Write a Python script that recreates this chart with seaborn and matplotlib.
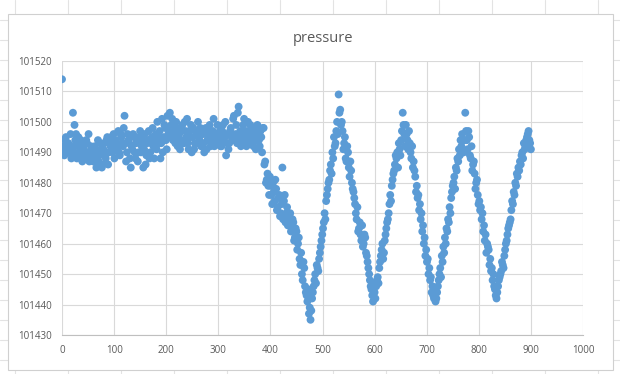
import numpy as np
import pandas as pd
import matplotlib
matplotlib.use("Agg")
import matplotlib.pyplot as plt
from matplotlib.lines import Line2D
from matplotlib.patches import Rectangle
import seaborn as sns

# pressure readings at samples 0, 3, 6, ...
flat = [
    101514, 101492, 101494, 101490, 101493, 101491, 101488, 101503, 101499, 101496,
    101492, 101490, 101494, 101487, 101491, 101489, 101493, 101496, 101488, 101490,
    101487, 101492, 101485, 101494, 101489, 101491, 101486, 101493, 101488, 101495,
    101490, 101492, 101494, 101496, 101491, 101493, 101497, 101489, 101495, 101492,
    101502, 101487, 101496, 101493, 101485, 101491, 101495, 101488, 101494, 101490,
    101497, 101492, 101485, 101496, 101489, 101494, 101488, 101493, 101498, 101488,
    101496, 101500, 101493, 101488, 101501, 101495, 101498, 101491, 101496, 101503,
    101499, 101494, 101497, 101500, 101492, 101496, 101494, 101499, 101493, 101497,
    101501, 101491, 101495, 101490, 101498, 101493, 101496, 101500, 101494, 101492,
    101496, 101490, 101498, 101494, 101497, 101492, 101495, 101501, 101493, 101496,
    101494, 101497, 101492, 101499, 101495, 101489, 101496, 101493, 101498, 101494,
    101502, 101496, 101493, 101505, 101497, 101494, 101499, 101495, 101492, 101500,
    101496, 101493, 101498, 101495, 101491, 101499, 101494, 101497, 101490, 101498,
]
drop1 = [101487, 101481, 101479, 101482, 101476, 101480, 101474, 101478, 101472, 101476,
         101470, 101485, 101474, 101467, 101472, 101468, 101470, 101465, 101467, 101462,
         101464, 101460, 101455, 101457, 101448, 101452, 101444, 101441, 101437]
rise1 = [101435, 101442, 101446, 101450, 101453, 101451, 101457, 101461, 101465, 101470,
         101474, 101478, 101481, 101486, 101490, 101495, 101493, 101500, 101509, 101504]
drop2 = [101500, 101491, 101495, 101487, 101490, 101482, 101484, 101478, 101475, 101470,
         101472, 101465, 101463, 101466, 101460, 101462, 101456, 101452, 101448, 101445,
         101441, 101444]
rise2 = [101446, 101449, 101452, 101456, 101460, 101457, 101463, 101467, 101470, 101476,
         101479, 101483, 101486, 101488, 101485, 101491, 101494, 101503, 101496]
drop3 = [101499, 101494, 101497, 101490, 101492, 101487, 101482, 101479, 101476, 101473,
         101470, 101466, 101462, 101458, 101455, 101452, 101449, 101446, 101442, 101441]
rise3 = [101444, 101448, 101452, 101456, 101459, 101462, 101465, 101468, 101472, 101475,
         101479, 101482, 101485, 101488, 101491, 101494, 101496, 101490, 101503]
drop4 = [101494, 101497, 101489, 101492, 101486, 101483, 101480, 101476, 101474, 101472,
         101470, 101466, 101463, 101460, 101458, 101455, 101452, 101450, 101445, 101442]
rise4 = [101446, 101449, 101451, 101453, 101456, 101460, 101463, 101466, 101468, 101474,
         101477, 101480, 101483, 101485, 101487, 101489, 101488, 101491, 101494, 101496,
         101494, 101491]

# readings in between, at samples 1.5, 4.5, 7.5, ...
flat_b = [
    101491, 101489, 101495, 101493, 101490, 101496, 101492, 101490, 101494, 101488,
    101495, 101493, 101489, 101492, 101488, 101494, 101490, 101487, 101492, 101489,
    101491, 101488, 101490, 101487, 101493, 101485, 101491, 101489, 101494, 101486,
    101493, 101495, 101490, 101488, 101494, 101492, 101490, 101496, 101493, 101498,
    101493, 101490, 101494, 101488, 101492, 101496, 101490, 101493, 101487, 101495,
    101490, 101494, 101491, 101486, 101493, 101497, 101490, 101495, 101492, 101494,
    101491, 101495, 101497, 101493, 101490, 101499, 101494, 101502, 101497, 101495,
    101501, 101496, 101493, 101498, 101495, 101491, 101497, 101493, 101500, 101495,
    101493, 101497, 101499, 101495, 101491, 101497, 101493, 101495, 101498, 101496,
    101493, 101497, 101491, 101495, 101499, 101494, 101497, 101492, 101496, 101499,
    101496, 101492, 101497, 101494, 101500, 101493, 101491, 101497, 101495, 101501,
    101495, 101499, 101503, 101495, 101492, 101497, 101501, 101493, 101497, 101494,
    101499, 101495, 101492, 101497, 101494, 101496, 101492, 101495, 101498, 101486,
]
drop1_b = [101480, 101483, 101476, 101479, 101473, 101477, 101481, 101471, 101475, 101469,
           101473, 101468, 101476, 101470, 101466, 101469, 101464, 101468, 101461, 101465,
           101458, 101462, 101453, 101450, 101454, 101446, 101443, 101445, 101439]
rise1_b = [101438, 101444, 101448, 101447, 101452, 101455, 101459, 101463, 101467, 101468,
           101476, 101480, 101484, 101483, 101488, 101492, 101497, 101496, 101503, 101499]
drop2_b = [101497, 101493, 101488, 101492, 101485, 101487, 101480, 101477, 101473, 101468,
           101464, 101467, 101461, 101459, 101463, 101457, 101454, 101450, 101446, 101443,
           101447, 101442]
rise2_b = [101448, 101447, 101454, 101458, 101455, 101461, 101465, 101468, 101473, 101474,
           101481, 101484, 101489, 101490, 101493, 101489, 101497, 101499, 101492]
drop3_b = [101496, 101491, 101493, 101488, 101485, 101484, 101477, 101475, 101471, 101468,
           101464, 101460, 101456, 101454, 101450, 101448, 101444, 101443, 101445, 101442]
rise3_b = [101446, 101450, 101449, 101454, 101457, 101460, 101464, 101467, 101470, 101477,
           101480, 101478, 101484, 101487, 101489, 101492, 101490, 101494, 101497]
drop4_b = [101491, 101495, 101488, 101484, 101487, 101478, 101481, 101473, 101471, 101468,
           101464, 101461, 101457, 101459, 101453, 101451, 101448, 101446, 101443, 101444]
rise4_b = [101448, 101450, 101454, 101452, 101458, 101461, 101465, 101467, 101471, 101473,
           101476, 101479, 101482, 101484, 101486, 101490, 101493, 101492, 101495, 101497,
           101493]

pressure_a = flat + drop1 + rise1 + drop2 + rise2 + drop3 + rise3 + drop4 + rise4
pressure_b = (flat_b + drop1_b + rise1_b + drop2_b + rise2_b + drop3_b + rise3_b
              + drop4_b + rise4_b)

df = pd.DataFrame({
    "sample": np.concatenate([np.arange(len(pressure_a)) * 3.0,
                              np.arange(len(pressure_b)) * 3.0 + 1.5]),
    "pressure": pressure_a + pressure_b,
})

sns.set_style("white")
plt.rcParams["font.family"] = ["Open Sans", "DejaVu Sans"]

fig = plt.figure(figsize=(6.2, 3.74), dpi=100)

# excel sheet grid behind the chart
for xp in np.arange(15, 620, 53):
    fig.add_artist(Line2D([xp / 620, xp / 620], [0, 1], color="#e3e3e3", lw=0.8, zorder=-5))
for yp in np.arange(20, 374, 20):
    fig.add_artist(Line2D([0, 1], [1 - yp / 374, 1 - yp / 374], color="#e3e3e3", lw=0.8, zorder=-5))
fig.add_artist(Rectangle((8 / 620, 1 - 370 / 374), 605 / 620, 356 / 374, facecolor="white",
                         edgecolor="#d0d0d0", lw=0.8, zorder=-4))

ax = fig.add_axes([62 / 620, 1 - 335 / 374, 521 / 620, 274 / 374])
ax.set_facecolor("none")
sns.scatterplot(data=df, x="sample", y="pressure", ax=ax, color="#5B9BD5",
                s=32, linewidth=0, edgecolor="none", zorder=3)

ax.set_xlim(0, 1000)
ax.set_ylim(101430, 101520)
ax.set_xticks(np.arange(0, 1001, 100))
ax.set_yticks(np.arange(101430, 101521, 10))
ax.ticklabel_format(useOffset=False, style="plain")
ax.grid(True, color="#d9d9d9", lw=0.8)
ax.set_axisbelow(True)
for side in ["top", "right", "left"]:
    ax.spines[side].set_visible(False)
ax.spines["bottom"].set_color("#bfbfbf")
ax.tick_params(axis="both", length=0, labelsize=7, labelcolor="#595959", pad=7)
ax.set_xlabel("")
ax.set_ylabel("")
ax.set_title("pressure", fontsize=10.5, color="#595959", pad=14)

fig.savefig("out.png", dpi=100)
